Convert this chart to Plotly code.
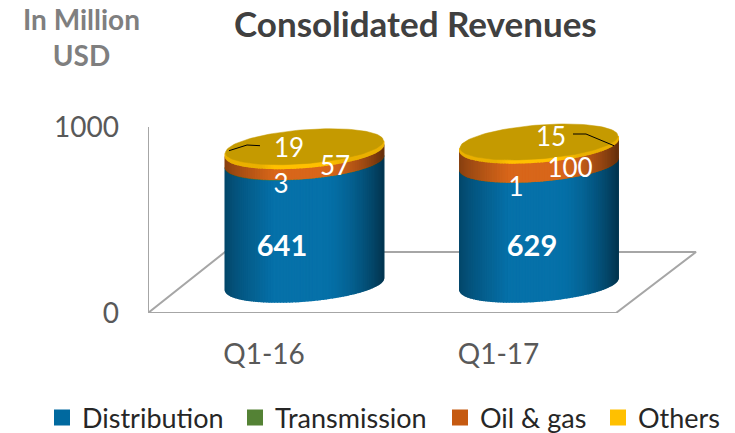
import math
import plotly.graph_objects as go

categories = ["Q1-16", "Q1-17"]
distribution = [641, 629]
transmission = [3, 1]
oil_gas = [57, 100]
others = [19, 15]
series_names = ["Distribution", "Transmission", "Oil & gas", "Others"]
series_values = [distribution, transmission, oil_gas, others]
series_colors = ["#00699f", "#548235", "#c55a11", "#ffc000"]
y_ticks = [0, 1000]

# Layout of the plot box, in pixels
W, H = 735, 433
L, R, T, B = 148, 700, 100, 313
FONT = "Lato"
X0_PX, STEP_PX = 264.0, 234.5   # position of first category, spacing
PX_Y = 186 / 1000.0             # pixels per value unit on the axis
HEIGHT_K = 1.025                # vertical stretch of the cylinders
DEPTH_X, DEPTH_Y = 81.0, 61.0   # floor depth projection
CYL_A, CYL_B, CYL_C = 79.0, 17.0, 6.0  # ellipse semi axes and tilt
N = 80


def xd(px):
    return (px - X0_PX) / STEP_PX


def yd(px):
    return (B - px) / PX_Y


def shade(hex_color, u, floor=0.0):
    r, g, b = (int(hex_color[i:i + 2], 16) for i in (1, 3, 5))
    if u < 0:
        f = 0.62 + 0.38 * min(1.0, (u + 1) / 0.62) ** 0.8
    else:
        f = 1.0 - 0.52 * (max(0.0, (u - 0.25) / 0.75)) ** 1.7
    f = max(f, floor)
    return "#%02x%02x%02x" % (int(r * f), int(g * f), int(b * f))


side_colors = ["#0671a9", "#548235", "#d8661a", "#ffc000"]
shade_floor = [0.0, 0.0, 0.0, 0.92]
fig = go.Figure()

# Floor of the 3D box and the value wall edge
floor_x = [L, 616, 696, 225, L]
floor_y = [B, B, 252, 252, B]
fig.add_trace(go.Scatter(x=[xd(p) for p in floor_x], y=[yd(p) for p in floor_y],
                         mode="lines", line=dict(color="#a6a6a6", width=2),
                         showlegend=False, cliponaxis=False, hoverinfo="skip"))
fig.add_trace(go.Scatter(x=[xd(L), xd(L)], y=[y_ticks[0], y_ticks[-1]],
                         mode="lines", line=dict(color="#a6a6a6", width=2),
                         showlegend=False, cliponaxis=False, hoverinfo="skip"))


def centre(i):
    return X0_PX + i * STEP_PX + DEPTH_X / 2, B - DEPTH_Y / 2 + 1.5


# Cylinder sides: vertical colour strips computed from the stacked values
for s, name in enumerate(series_names):
    for k in range(N):
        t1 = math.pi * (1 - k / N)
        t2 = math.pi * (1 - (k + 1) / N)
        u1, u2 = math.cos(t1), math.cos(t2)
        col = shade(side_colors[s], (u1 + u2) / 2, shade_floor[s])
        xs, ys = [], []
        for i in range(len(categories)):
            cx, cy = centre(i)
            base = sum(series_values[j][i] for j in range(s))
            top = base + series_values[s][i]
            pts = [(u1, base, t1), (u2, base, t2), (u2, top, t2), (u1, top, t1)]
            for u, v, t in pts:
                xs.append(xd(cx + CYL_A * u))
                ys.append(yd(cy - v * PX_Y * HEIGHT_K + CYL_B * math.sin(t) - CYL_C * u))
            xs.append(xs[-4])
            ys.append(ys[-4])
            xs.append(None)
            ys.append(None)
        fig.add_trace(go.Scatter(x=xs, y=ys, mode="lines", fill="toself", fillcolor=col,
                                 line=dict(color=col, width=1.6), showlegend=False,
                                 cliponaxis=False, hoverinfo="skip"))

# Top faces
for i in range(len(categories)):
    cx, cy = centre(i)
    total = sum(v[i] for v in series_values)
    xs, ys = [], []
    for k in range(121):
        t = 2 * math.pi * k / 120
        xs.append(xd(cx + CYL_A * math.cos(t)))
        ys.append(yd(cy - total * PX_Y * HEIGHT_K - CYL_B * math.sin(t) - CYL_C * math.cos(t)))
    fig.add_trace(go.Scatter(x=xs, y=ys, mode="lines", fill="toself", fillcolor="#c59a00",
                             line=dict(color="#c59a00", width=0.5), showlegend=False,
                             cliponaxis=False, hoverinfo="skip"))

# Leader lines for the "Others" labels
leaders = [([229, 247, 260], [150.7, 145, 145.7]), ([573, 586, 614], [134, 134, 145.7])]
for lx, ly in leaders:
    fig.add_trace(go.Scatter(x=[xd(p) for p in lx], y=[yd(p) for p in ly], mode="lines",
                             line=dict(color="#000000", width=1), showlegend=False,
                             cliponaxis=False, hoverinfo="skip"))

# Data labels (value text, pixel anchor)
label_pos = {
    0: [(282, 249), (281, 186), (335, 168), (289, 150)],
    1: [(532, 249), (516, 189), (570, 170), (551, 139)],
}
for i in range(len(categories)):
    for s in range(4):
        px, py_ = label_pos[i][s]
        bold = s == 0
        fig.add_trace(go.Scatter(
            x=[xd(px)], y=[yd(py_)], mode="text", text=[str(series_values[s][i])],
            textposition="middle center",
            textfont=dict(family=FONT, size=29 if bold else 26, color="#ffffff",
                          weight="bold" if bold else "normal"),
            showlegend=False, cliponaxis=False, hoverinfo="skip"))

# Legend entries, one small legend per series so each keeps its own place
legend_left = [42, 235, 440, 598]
legends = {}
for n, (name, col, lx) in enumerate(zip(series_names, series_colors, legend_left)):
    key = "legend" if n == 0 else f"legend{n + 1}"
    fig.add_trace(go.Scatter(x=[None], y=[None], mode="markers", name=name, legend=key,
                             marker=dict(symbol="square", size=18, color=col)))
    legends[key] = dict(x=(lx - L) / (R - L), xanchor="left",
                        y=(B - 418) / (B - T), yanchor="middle",
                        font=dict(family=FONT, size=27, color="#262626"),
                        itemsizing="trace", itemwidth=30, bgcolor="rgba(0,0,0,0)")

fig.update_layout(
    width=W, height=H,
    margin=dict(l=L, r=W - R, t=T, b=H - B, autoexpand=False),
    paper_bgcolor="#ffffff", plot_bgcolor="rgba(0,0,0,0)",
    showlegend=True,
    xaxis=dict(range=[xd(L), xd(R)], tickvals=list(range(len(categories))), ticktext=categories,
               showgrid=False, zeroline=False, showline=False, ticks="",
               ticklabelstandoff=22,
               tickfont=dict(family=FONT, size=28, color="#595959")),
    yaxis=dict(range=[0, (B - T) / PX_Y], tickvals=y_ticks, showgrid=False, zeroline=False,
               showline=False, ticks="",
               ticklabelstandoff=28,
               tickfont=dict(family=FONT, size=28, color="#595959")),
    annotations=[
        dict(text="Consolidated Revenues", xref="paper", yref="paper",
             x=(415 - L) / (R - L), y=(B - 23) / (B - T), showarrow=False,
             xanchor="center", yanchor="middle",
             font=dict(family=FONT, size=35, color="#404040", weight="bold")),
        dict(text="In Million<br>USD", xref="paper", yref="paper",
             x=(81 - L) / (R - L), y=(B - 37) / (B - T), showarrow=False, align="center",
             xanchor="center", yanchor="middle",
             font=dict(family=FONT, size=28, color="#7f7f7f", weight="bold")),
    ],
    **legends,
)

fig.write_html("out.html", post_script="document.body.style.margin='0';",
               config={"displayModeBar": False})
